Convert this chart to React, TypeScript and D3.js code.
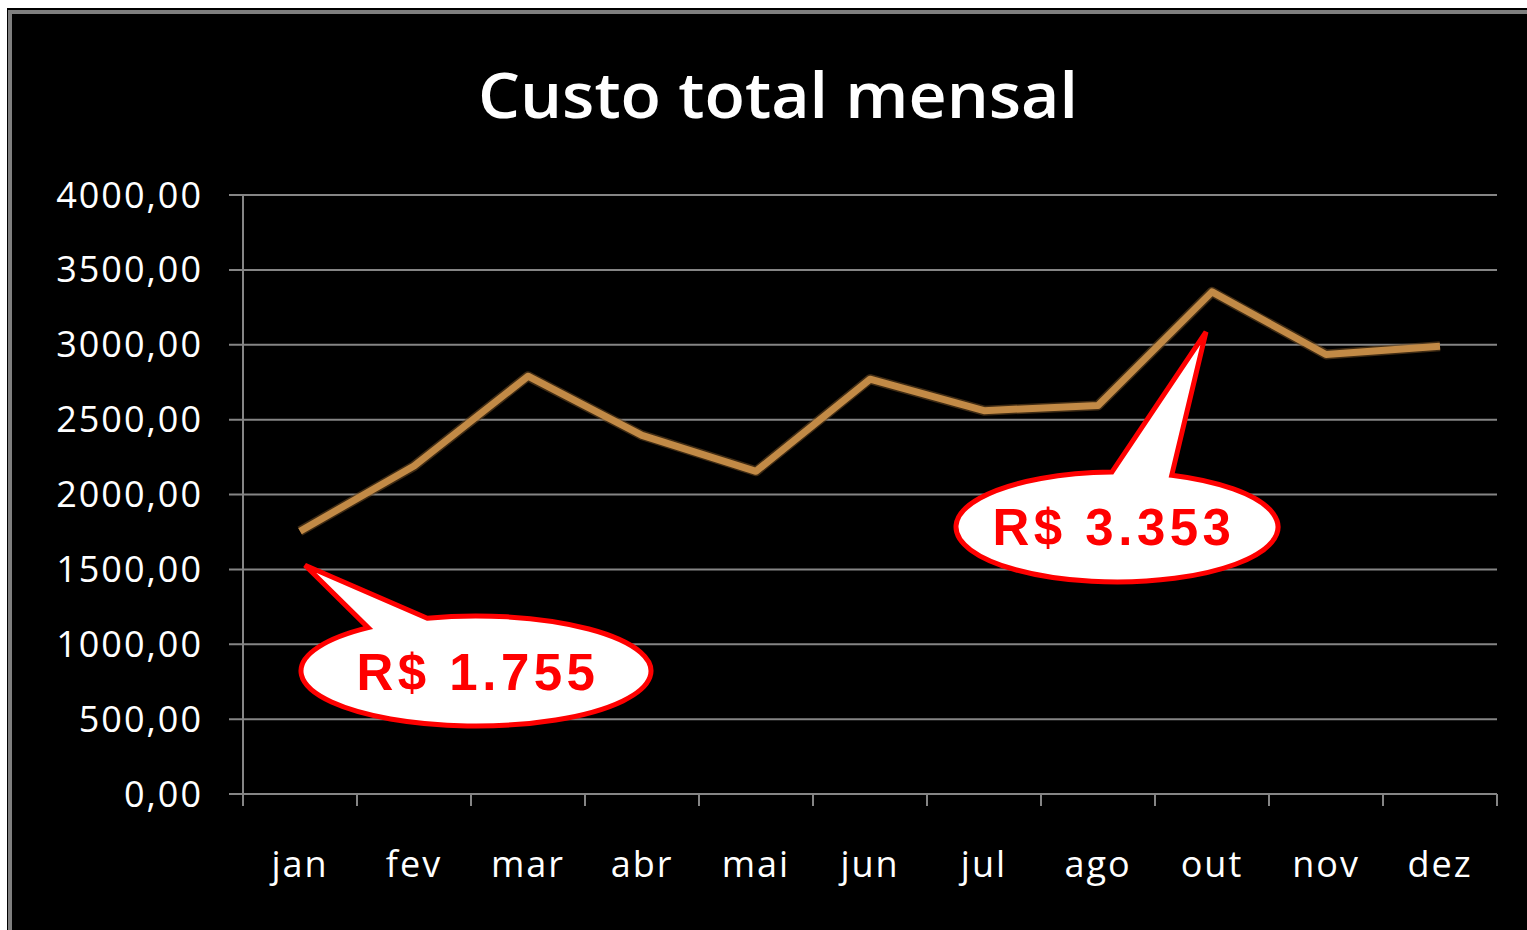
import React from "react";
import * as d3 from "d3";

const months = ["jan", "fev", "mar", "abr", "mai", "jun", "jul", "ago", "out", "nov", "dez"];
const costs = [1755, 2190, 2790, 2395, 2155, 2770, 2560, 2595, 3353, 2935, 2990];
const yTicks = [0, 500, 1000, 1500, 2000, 2500, 3000, 3500, 4000];
const title = "Custo total mensal";
const callouts = [
  { label: "R$ 1.755", month: "jan", value: 1755 },
  { label: "R$ 3.353", month: "out", value: 3353 },
];

const W = 1527;
const H = 930;

export default function App() {
  const x = d3.scaleBand<string>().domain(months).range([243, 1497]);
  const y = d3.scaleLinear().domain([0, 4000]).range([794, 195]);
  const cx = (m: string) => (x(m) as number) + x.bandwidth() / 2;
  const line = d3
    .line<number>()
    .x((_, i) => cx(months[i]))
    .y((d) => y(d));
  const fmt = (v: number) => v.toFixed(2).replace(".", ",");
  const tickXs = [...months.map((m) => x(m) as number), 1497];

  const c1tip = { x: cx("jan") + 5, y: y(1755) + 34 };
  const c2tip = { x: cx("out") - 6, y: y(3353) + 40 };

  const bubble = (
    ex: number,
    ey: number,
    rx: number,
    ry: number,
    b1: [number, number],
    tip: { x: number; y: number },
    b2: [number, number]
  ) => {
    const a1 = Math.atan2((b1[1] - ey) / ry, (b1[0] - ex) / rx);
    const a2 = Math.atan2((b2[1] - ey) / ry, (b2[0] - ex) / rx);
    const p1 = [ex + rx * Math.cos(a1), ey + ry * Math.sin(a1)];
    const p2 = [ex + rx * Math.cos(a2), ey + ry * Math.sin(a2)];
    return `M${p2[0]},${p2[1]} A${rx},${ry} 0 1 1 ${p1[0]},${p1[1]} L${tip.x},${tip.y} Z`;
  };

  const path1 = bubble(476, 671, 175, 55, [369, 628], c1tip, [428, 619]);
  const path2 = bubble(1117, 527, 161, 55, [1112, 473], c2tip, [1172, 475]);

  return (
    <svg
      width={W}
      height={H}
      style={{ position: "fixed", left: 0, top: 0, display: "block" }}
      fontFamily="'Open Sans', sans-serif"
    >
      <rect x={0} y={0} width={W} height={H} fill="#ffffff" />
      <rect x={7} y={8} width={W - 7} height={H - 8} fill="#000000" />
      <rect x={8} y={10} width={W - 8} height={4} fill="#7f7f7f" />
      <rect x={8} y={10} width={4} height={H - 10} fill="#7f7f7f" />

      <text
        x={778}
        y={118}
        textAnchor="middle"
        fill="#ffffff"
        fontSize={64}
        fontWeight={600}
        textLength={600}
        lengthAdjust="spacingAndGlyphs"
      >
        {title}
      </text>

      {yTicks.map((t) => (
        <line key={"g" + t} x1={229} x2={1497} y1={y(t)} y2={y(t)} stroke="#858585" strokeWidth={2} />
      ))}
      <line x1={243} x2={243} y1={y(4000)} y2={y(0) + 12} stroke="#858585" strokeWidth={2} />
      {yTicks.map((t) => (
        <text
          key={"t" + t}
          x={203}
          y={y(t)}
          dy="0.35em"
          textAnchor="end"
          fill="#ffffff"
          fontSize={36}
          letterSpacing={2}
        >
          {fmt(t)}
        </text>
      ))}
      {tickXs.map((tx, i) => (
        <line key={"xt" + i} x1={tx} x2={tx} y1={y(0)} y2={y(0) + 12} stroke="#858585" strokeWidth={2} />
      ))}
      {months.map((m) => (
        <text key={m} x={cx(m)} y={877} textAnchor="middle" fill="#ffffff" fontSize={36} letterSpacing={2}>
          {m}
        </text>
      ))}

      <path d={line(costs) || ""} fill="none" stroke="#6b4a22" strokeWidth={10} strokeLinejoin="round" opacity={0.6} />
      <path d={line(costs) || ""} fill="none" stroke="#c28a46" strokeWidth={7} strokeLinejoin="round" />

      <path d={path1} fill="#ffffff" stroke="#ff0000" strokeWidth={5} strokeLinejoin="miter" />
      <text
        x={478}
        y={690}
        textAnchor="middle"
        fill="#ff0000"
        fontFamily="'Liberation Sans', Arial, sans-serif"
        fontWeight="bold"
        fontSize={51}
        letterSpacing={4.5}
      >
        {callouts[0].label}
      </text>
      <path d={path2} fill="#ffffff" stroke="#ff0000" strokeWidth={5} strokeLinejoin="miter" />
      <text
        x={1114}
        y={545}
        textAnchor="middle"
        fill="#ff0000"
        fontFamily="'Liberation Sans', Arial, sans-serif"
        fontWeight="bold"
        fontSize={51}
        letterSpacing={4.5}
      >
        {callouts[1].label}
      </text>
    </svg>
  );
}
